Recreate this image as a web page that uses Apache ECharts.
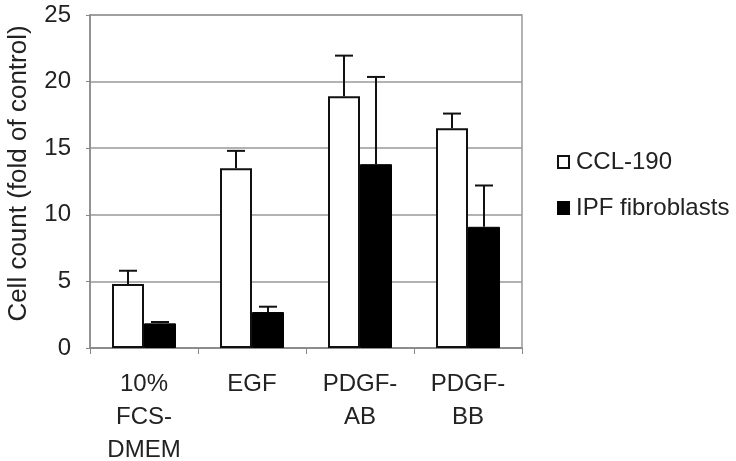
<!DOCTYPE html>
<html>
<head>
<meta charset="utf-8">
<script src="https://cdn.jsdelivr.net/npm/echarts@6/dist/echarts.min.js"></script>
<style>html,body{margin:0;padding:0;background:#fff;}#c{width:736px;height:461px;}</style>
</head>
<body>
<div id="c"></div>
<script>
const categories = ['10%\nFCS-\nDMEM', 'EGF', 'PDGF-\nAB', 'PDGF-\nBB'];
const ccl190 = [4.8, 13.5, 18.9, 16.5];
const ccl190Err = [1.0, 1.3, 3.05, 1.1];
const ipf = [1.85, 2.7, 13.8, 9.1];
const ipfErr = [0.1, 0.4, 6.55, 3.1];
const yTicks = [0, 5, 10, 15, 20, 25];

const BAR_W = 32;
const FONT = 'Liberation Sans, Arial, sans-serif';
const chart = echarts.init(document.getElementById('c'));

function errSeries(vals, errs, side) {
  return {
    type: 'custom',
    silent: true,
    z: 1,
    data: vals.map((v, i) => [i, v, v + errs[i]]),
    renderItem: function (params, api) {
      const base = api.coord([api.value(0), api.value(1)]);
      const top = api.coord([api.value(0), api.value(2)]);
      const x = base[0] + side * BAR_W / 2;
      const hw = 9;
      return {
        type: 'group',
        children: [
          { type: 'line', shape: { x1: x, y1: base[1], x2: x, y2: top[1] }, style: { stroke: '#111', lineWidth: 2 } },
          { type: 'line', shape: { x1: x - hw, y1: top[1], x2: x + hw, y2: top[1] }, style: { stroke: '#111', lineWidth: 2 } }
        ]
      };
    }
  };
}

chart.setOption({
  animation: false,
  textStyle: { fontFamily: FONT },
  grid: { left: 90, right: 214, top: 15, bottom: 113, show: true, borderColor: '#999', borderWidth: 1.5, containLabel: false, outerBoundsMode: 'none' },
  legend: {
    orient: 'vertical',
    left: 552,
    top: 145,
    itemWidth: 11,
    itemHeight: 12,
    itemGap: 22,
    icon: 'rect',
    textStyle: { fontSize: 24, color: '#222', fontFamily: FONT, padding: [0, 0, 0, 2] },
    data: ['CCL-190', 'IPF fibroblasts']
  },
  xAxis: {
    type: 'category',
    data: categories,
    axisLine: { lineStyle: { color: '#888', width: 1.5 } },
    axisTick: { show: true, length: 6, lineStyle: { color: '#888' } },
    axisLabel: { fontSize: 24, color: '#222', lineHeight: 33, margin: 20, interval: 0, fontFamily: FONT }
  },
  yAxis: {
    type: 'value',
    min: 0, max: 25, interval: 5,
    name: 'Cell count (fold of control)',
    nameLocation: 'middle',
    nameGap: 58,
    nameTextStyle: { fontSize: 26, color: '#222', fontFamily: FONT, padding: [0, 0, 0, 16] },
    axisLine: { show: true, lineStyle: { color: '#888', width: 1.5 } },
    axisTick: { show: true, length: 4, lineStyle: { color: '#888' } },
    axisLabel: { fontSize: 24, color: '#222', margin: 19, fontFamily: FONT, formatter: v => yTicks.includes(v) ? String(v) : '' },
    splitLine: { lineStyle: { color: '#999', width: 1.5 } }
  },
  series: [
    errSeries(ccl190, ccl190Err, -1),
    errSeries(ipf, ipfErr, 1),
    {
      name: 'CCL-190', type: 'bar', data: ccl190, barWidth: BAR_W, barGap: '0%', z: 2,
      itemStyle: { color: '#fff', borderColor: '#111', borderWidth: 2 }
    },
    {
      name: 'IPF fibroblasts', type: 'bar', data: ipf, barWidth: BAR_W, z: 2,
      itemStyle: { color: '#000', borderColor: '#000', borderWidth: 1 }
    }
  ]
});
</script>
</body>
</html>
